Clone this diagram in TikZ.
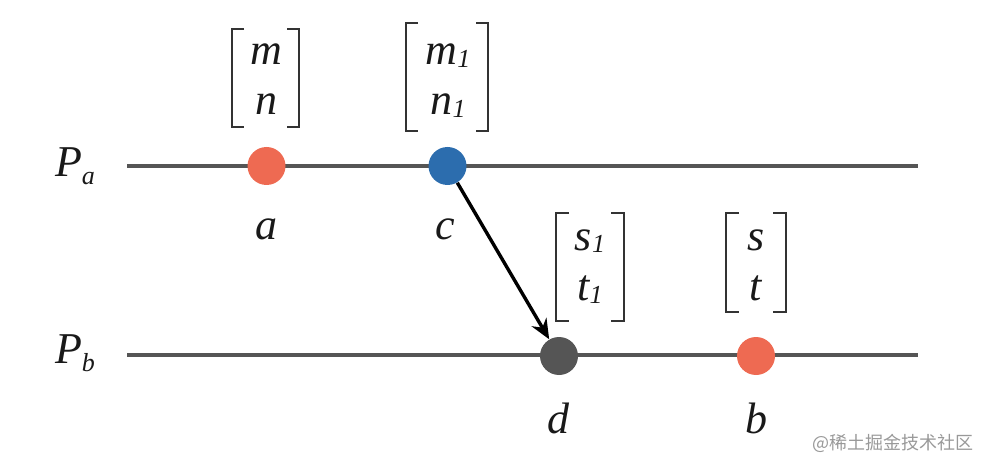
\documentclass[tikz,border=0pt]{standalone}
\usepackage{fontspec}
\setmainfont{Liberation Serif}
\newfontfamily\cjk{Noto Sans CJK SC}
\usetikzlibrary{arrows.meta}
\definecolor{salmon}{HTML}{EE6A52}
\definecolor{dotblue}{HTML}{2C6DAE}
\definecolor{dotgray}{HTML}{555555}
\definecolor{linegray}{HTML}{555555}
\definecolor{brkc}{HTML}{333333}
\newcommand{\sbx}[2][-1.5pt]{\raisebox{#1}{\fontsize{13}{15}\selectfont\textit{#2}}}
\begin{document}
\begin{tikzpicture}[x=0.5pt,y=-0.5pt,
  tl/.style={line width=1.6pt,draw=linegray},
  dot/.style={circle,minimum size=19pt,inner sep=0pt},
  lbl/.style={anchor=base,inner sep=0pt,font=\fontsize{22}{26}\selectfont\itshape,text=black!90},
  brk/.style={line width=1.3pt,draw=brkc},
  arr/.style={line width=1.7pt,draw=black,-{Stealth[length=10pt,width=8.5pt]}}]
\useasboundingbox (0,0) rectangle (990,470);
% timelines
\coordinate (pa0) at (127,166); \coordinate (pa1) at (918,166);
\coordinate (pb0) at (127,355); \coordinate (pb1) at (918,355);
\draw[tl] (pa0) -- (pa1);
\draw[tl] (pb0) -- (pb1);
% process labels
\node[lbl] (Pa) at (75,177) {P\sbx[-4pt]{a}};
\node[lbl] (Pb) at (75,363) {P\sbx[-4pt]{b}};
% dots
\node[dot,fill=salmon] (a) at (266.5,166) {};
\node[dot,fill=dotblue] (c) at (447.5,166) {};
\node[dot,fill=dotgray] (d) at (559,356) {};
\node[dot,fill=salmon] (b) at (756,356) {};
% dot labels
\node[lbl] (la) at (266,240) {a};
\node[lbl] (lc) at (445,240) {c};
\node[lbl] (ld) at (558,433) {d};
\node[lbl] (lb) at (756,433) {b};
% vectors
\node[lbl] (ma) at (266,65) {m};
\node[lbl] (na) at (266,115) {n};
\node[lbl] (mc) at (448,65) {m\sbx{1}};
\node[lbl] (nc) at (448,115) {n\sbx{1}};
\node[lbl] (sd) at (590,250) {s\sbx{1}};
\node[lbl] (td) at (590,300) {t\sbx{1}};
\node[lbl] (sb) at (756,250) {s};
\node[lbl] (tb) at (756,300) {t};
% brackets
\draw[brk] (244,29) -- (232,29) -- (232,127) -- (244,127);
\draw[brk] (287,29) -- (299,29) -- (299,127) -- (287,127);
\draw[brk] (418,23) -- (406,23) -- (406,131) -- (418,131);
\draw[brk] (476,23) -- (488,23) -- (488,131) -- (476,131);
\draw[brk] (569,213) -- (556,213) -- (556,321) -- (569,321);
\draw[brk] (611,213) -- (624,213) -- (624,321) -- (611,321);
\draw[brk] (739,213) -- (726,213) -- (726,312) -- (739,312);
\draw[brk] (773,213) -- (786,213) -- (786,312) -- (773,312);
% message
\draw[arr] (c) -- (d);
% watermark
\node[inner sep=0pt,text=black!40,font=\cjk\fontsize{9}{11}\selectfont] (wm) at (893,443) {@稀土掘金技术社区};
\end{tikzpicture}
\end{document}
